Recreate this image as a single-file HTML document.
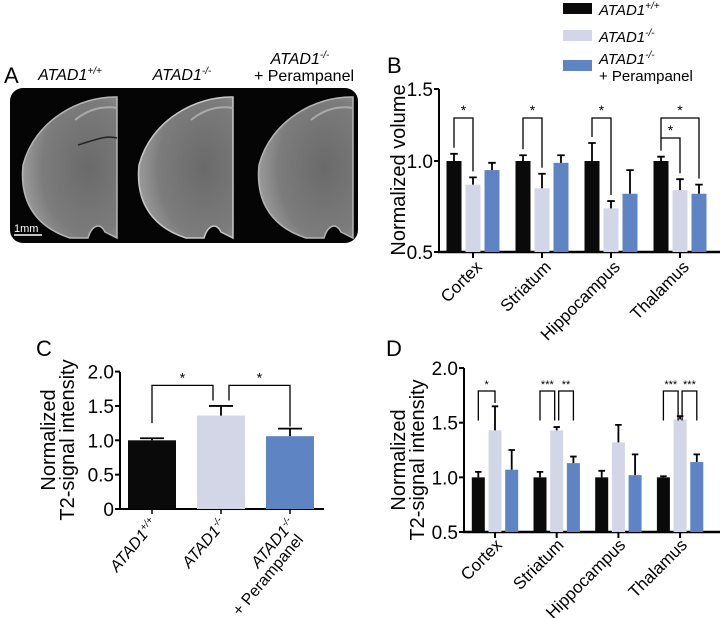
<!DOCTYPE html>
<html><head><meta charset="utf-8">
<style>
html,body{margin:0;padding:0;background:#fff;}
svg{display:block;font-family:"Liberation Sans",Arial,sans-serif;}
.it{font-style:italic;}
</style></head>
<body>
<svg id="fig" width="720" height="618" viewBox="0 0 720 618" xmlns="http://www.w3.org/2000/svg">
  <defs>
    <radialGradient id="brainG" cx="0.7" cy="0.5" r="0.7">
      <stop offset="0" stop-color="#6a6a6a"/>
      <stop offset="0.7" stop-color="#7c7c7c"/>
      <stop offset="1" stop-color="#9a9a9a"/>
    </radialGradient>
  </defs>
  <!-- Panel A -->
  <g>
    <text x="4" y="83" font-size="22">A</text>
    <text x="70" y="80" font-size="16" text-anchor="middle" class="it">ATAD1<tspan font-size="10" dy="-6">+/+</tspan></text>
    <text x="182" y="80" font-size="16" text-anchor="middle" class="it">ATAD1<tspan font-size="10" dy="-6">-/-</tspan></text>
    <text x="300" y="64" font-size="16" text-anchor="middle" class="it">ATAD1<tspan font-size="10" dy="-6">-/-</tspan></text>
    <text x="304" y="81" font-size="16" text-anchor="middle">+ Perampanel</text>
    <rect x="10" y="88" width="348" height="155" rx="13" fill="#050505"/>
    <g transform="translate(0,0)">
      <path d="M117,97 C80,96 35,120 23,165 C20,195 30,225 70,238 L88,238 C92,225 100,222 105,232 L117,238 Z" fill="url(#brainG)" stroke="#b5b5b5" stroke-width="1.5"/>
      <path d="M75,120 C90,108 105,106 117,108" stroke="#aaa" stroke-width="2" fill="none"/>
      <path d="M78,145 C95,140 105,135 117,138" stroke="#222" stroke-width="1.5" fill="none"/>
    </g>
    <g transform="translate(116,0)">
      <path d="M117,97 C80,96 35,120 23,165 C20,195 30,225 70,238 L88,238 C92,225 100,222 105,232 L117,238 Z" fill="url(#brainG)" stroke="#c8c8c8" stroke-width="1.5"/>
      <path d="M75,120 C90,108 105,106 117,108" stroke="#aaa" stroke-width="2" fill="none"/>
    </g>
    <g transform="translate(236,0)">
      <path d="M117,97 C80,96 35,120 23,165 C20,195 30,225 70,238 L88,238 C92,225 100,222 105,232 L117,238 Z" fill="url(#brainG)" stroke="#b5b5b5" stroke-width="1.5"/>
      <path d="M75,120 C90,108 105,106 117,108" stroke="#aaa" stroke-width="2" fill="none"/>
    </g>
    <text x="14" y="232" font-size="11" fill="#fff">1mm</text>
    <line x1="14" y1="235" x2="42" y2="235" stroke="#fff" stroke-width="1.5"/>
  </g>
  <!-- Legend -->
  <g>
    <rect x="563" y="3" width="29" height="11" fill="#0a0a0a"/>
    <text x="599" y="15" font-size="15" class="it">ATAD1<tspan font-size="10" dy="-6">+/+</tspan></text>
    <rect x="563" y="30" width="29" height="11" fill="#d3d6e6"/>
    <text x="599" y="42" font-size="15" class="it">ATAD1<tspan font-size="10" dy="-6">-/-</tspan></text>
    <rect x="563" y="60" width="29" height="11" fill="#5f84c4"/>
    <text x="599" y="64" font-size="15" class="it">ATAD1<tspan font-size="10" dy="-6">-/-</tspan></text>
    <text x="599" y="81" font-size="15">+ Perampanel</text>
  </g>
  <text x="387" y="73" font-size="22">B</text>
  <text x="36" y="356" font-size="22">C</text>
  <text x="386" y="356" font-size="22">D</text>
  <g id="gB"></g>
  <g id="gC"></g>
  <g id="gD"></g>
</svg>
<script>
const regions = ["Cortex","Striatum","Hippocampus","Thalamus"];
const colors = ["#0a0a0a","#d3d6e6","#5f84c4"];
// Panel B: normalized volume
const bWT = [1.0, 1.0, 1.0, 1.0];
const bWTerr = [0.05, 0.04, 0.125, 0.03];
const bKO = [0.87, 0.85, 0.74, 0.84];
const bKOerr = [0.04, 0.08, 0.04, 0.06];
const bPP = [0.95, 0.99, 0.82, 0.82];
const bPPerr = [0.04, 0.05, 0.13, 0.05];
const bTicks = [0.5, 1.0, 1.5];
const bTickLabels = ["0.5","1.0","1.5"];
// Panel C: T2 signal overall
const cGroups = ["wt","ko","ko-peramp"];
const cVals = [1.0, 1.36, 1.06];
const cErr = [0.03, 0.14, 0.11];
const cTicks = [0, 0.5, 1.0, 1.5, 2.0];
const cTickLabels = ["0","0.5","1.0","1.5","2.0"];
// Panel D: T2 signal per region
const dWT = [1.0, 1.0, 1.0, 1.0];
const dWTerr = [0.05, 0.05, 0.06, 0.01];
const dKO = [1.43, 1.43, 1.32, 1.53];
const dKOerr = [0.22, 0.03, 0.16, 0.03];
const dPP = [1.07, 1.13, 1.02, 1.14];
const dPPerr = [0.18, 0.06, 0.19, 0.07];
const dTicks = [0.5, 1.0, 1.5, 2.0];
const dTickLabels = ["0.5","1.0","1.5","2.0"];

const NS="http://www.w3.org/2000/svg";
function mk(parent, tag, attrs, text){
  const e=document.createElementNS(NS,tag);
  for(const k in attrs) e.setAttribute(k,attrs[k]);
  if(text!==undefined) e.textContent=text;
  parent.appendChild(e); return e;
}
function bar(g,x,w,y0,y1,err,color,name){
  const r=mk(g,'rect',{x:x,y:Math.min(y0,y1),width:w,height:Math.abs(y0-y1),fill:color});
  
  
  const cx=x+w/2;
  const e=mk(g,'path',{d:`M${cx},${y1}V${err}M${cx-w/4},${err}H${cx+w/4}`,stroke:'#000','stroke-width':1.8,fill:'none'});
  
  
}
function bracket(g,x1,y1,x2,y2,top,star,fs,name){
  const p=mk(g,'path',{d:`M${x1},${y1}V${top}H${x2}V${y2}`,stroke:'#000','stroke-width':1.3,fill:'none'});
  
  
  const t=mk(g,'text',{x:(x1+x2)/2,y:top-3,'font-size':fs,'text-anchor':'middle'},star);
  
  
}
function yAxis(g,x,yTop,yBot,ticks,labels,sy,fs,name){
  const a=mk(g,'line',{x1:x,y1:yTop,x2:x,y2:yBot,stroke:'#000','stroke-width':2});
  
  
  ticks.forEach((v,i)=>{
    mk(g,'line',{x1:x-5,x2:x,y1:sy(v),y2:sy(v),stroke:'#000','stroke-width':2});
    const t=mk(g,'text',{x:x-6,y:sy(v)+7,'font-size':fs,'text-anchor':'end'},labels[i]);
    
    
  });
}
// ---- Panel B ----
(function(){
  const g=document.getElementById('gB');
  const sy=v=> v<=1 ? 252-(v-0.5)*182 : 161-(v-1)*144;
  const gx=i=>473+i*69;
  yAxis(g,439,89,252,bTicks,bTickLabels,sy,19,'panel-b-y-axis');
  const xa=mk(g,'line',{x1:438,y1:252,x2:720,y2:252,stroke:'#000','stroke-width':2.5});
  
  
  const sets=[[bWT,bWTerr],[bKO,bKOerr],[bPP,bPPerr]];
  const names=['wt','ko','ko-peramp'];
  regions.forEach((r,i)=>{
    const c=gx(i);
    sets.forEach((s,j)=>{
      const x=c+(j-1)*19-7.5;
      bar(g,x,15,252,sy(s[0][i]),sy(s[0][i]+s[1][i]),colors[j],'bar-b-'+r.toLowerCase()+'-'+names[j]);
    });
    mk(g,'line',{x1:c,x2:c,y1:252,y2:258,stroke:'#000','stroke-width':2});
    const t=mk(g,'text',{'font-size':17,'text-anchor':'end',transform:`translate(${c+10},${268}) rotate(-45)`},r);
    
    
    const bx=c-19, kx=c, px=c+19;
    if(i<3) bracket(g,bx,sy(bWT[i]+bWTerr[i])-6,kx,sy(bKO[i]+bKOerr[i])-6,118,'*',14,'sig-b-'+r.toLowerCase());
    else {
      bracket(g,bx,sy(bWT[i]+bWTerr[i])-6,kx,sy(bKO[i]+bKOerr[i])-6,138,'*',14,'sig-b-thalamus-ko');
      bracket(g,bx,138,px,sy(bPP[i]+bPPerr[i])-6,118,'*',14,'sig-b-thalamus-peramp');
    }
  });
  const yt=mk(g,'text',{'font-size':20,'text-anchor':'middle',transform:'translate(405,170) rotate(-90)'},'Normalized volume');
  
  
})();
// ---- Panel C ----
(function(){
  const g=document.getElementById('gC');
  const sy=v=>509-v*68.7;
  yAxis(g,120,372,509,cTicks,cTickLabels,sy,19,'panel-c-y-axis');
  const xa=mk(g,'line',{x1:119,y1:509,x2:324,y2:509,stroke:'#000','stroke-width':2});
  
  
  const cx=i=>152+i*69;
  cVals.forEach((v,i)=>{
    bar(g,cx(i)-24,48,509,sy(v),sy(v+cErr[i]),colors[i],'bar-c-'+cGroups[i]);
    mk(g,'line',{x1:cx(i),x2:cx(i),y1:509,y2:514,stroke:'#000','stroke-width':1.5});
  });
  const lab=[['ATAD1','+/+'],['ATAD1','-/-'],['ATAD1','-/-']];
  lab.forEach((l,i)=>{
    const t=mk(g,'text',{'font-size':16,'text-anchor':'end','font-style':'italic',transform:`translate(${cx(i)+6},${524}) rotate(-50)`},l[0]);
    mk(t,'tspan',{'font-size':10,dy:-6},l[1]);
    
    
  });
  const t2=mk(g,'text',{'font-size':16,'text-anchor':'end',transform:`translate(${cx(2)+14},${540}) rotate(-50)`},'+ Perampanel');
  
  
  bracket(g,cx(0),sy(1.25),cx(1)-8,sy(1.58),sy(1.8),'*',14,'sig-c-wt-ko');
  bracket(g,cx(1)+8,sy(1.58),cx(2),sy(1.2),sy(1.8),'*',14,'sig-c-ko-peramp');
  const yt=mk(g,'text',{'font-size':20,'text-anchor':'middle',transform:'translate(55,440) rotate(-90)'},'Normalized');
  
  
  const yt2=mk(g,'text',{'font-size':20,'text-anchor':'middle',transform:'translate(74,440) rotate(-90)'},'T2-signal intensity');
  
  
})();
// ---- Panel D ----
(function(){
  const g=document.getElementById('gD');
  const sy=v=>532-(v-0.5)*109.3;
  const gx=i=>495+i*61.7;
  yAxis(g,464,368,532,dTicks,dTickLabels,sy,19,'panel-d-y-axis');
  const xa=mk(g,'line',{x1:463,y1:532,x2:720,y2:532,stroke:'#000','stroke-width':2.5});
  
  
  const sets=[[dWT,dWTerr],[dKO,dKOerr],[dPP,dPPerr]];
  const names=['wt','ko','ko-peramp'];
  regions.forEach((r,i)=>{
    const c=gx(i);
    sets.forEach((s,j)=>{
      const x=c+(j-1)*16.7-6.5;
      bar(g,x,13,532,sy(s[0][i]),sy(s[0][i]+s[1][i]),colors[j],'bar-d-'+r.toLowerCase()+'-'+names[j]);
    });
    mk(g,'line',{x1:c,x2:c,y1:532,y2:538,stroke:'#000','stroke-width':2});
    const t=mk(g,'text',{'font-size':17,'text-anchor':'end',transform:`translate(${c+8},${546}) rotate(-45)`},r);
    
    
  });
  const top=sy(1.79), bot=sy(1.52);
  bracket(g,gx(0)-16.7,bot,gx(0),sy(1.68),top,'*',11,'sig-d-cortex');
  bracket(g,gx(1)-16.7,bot,gx(1)-2,bot,top,'***',11,'sig-d-striatum-ko');
  bracket(g,gx(1)+2,bot,gx(1)+16.7,bot,top,'**',11,'sig-d-striatum-peramp');
  bracket(g,gx(3)-16.7,bot,gx(3)-2,bot,top,'***',11,'sig-d-thalamus-ko');
  bracket(g,gx(3)+2,bot,gx(3)+16.7,bot,top,'***',11,'sig-d-thalamus-peramp');
  const yt=mk(g,'text',{'font-size':20,'text-anchor':'middle',transform:'translate(405,460) rotate(-90)'},'Normalized');
  
  
  const yt2=mk(g,'text',{'font-size':20,'text-anchor':'middle',transform:'translate(424,460) rotate(-90)'},'T2-signal intensity');
  
  
})();
</script>
</body></html>
